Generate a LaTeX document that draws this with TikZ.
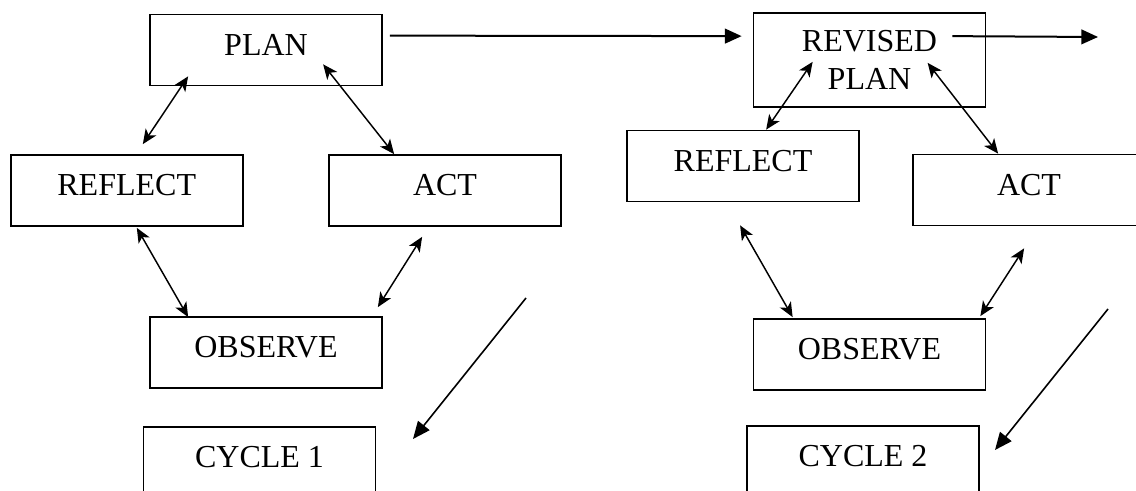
\documentclass[tikz,border=0pt]{standalone}
\usepackage{fontspec}
\setmainfont{Liberation Serif}
\usetikzlibrary{calc,arrows.meta}
\begin{document}
\begin{tikzpicture}[x=0.75pt,y=-0.75pt,
  basebox/.style={draw,line width=1.3pt,minimum width=174pt,inner sep=0pt,font=\fontsize{24}{28}\selectfont},
  box/.style={basebox,minimum height=53.25pt,text depth=8.25pt},
  tallbox/.style={basebox,minimum height=70.5pt,align=center},
  dbl/.style={line width=1.1pt,{Stealth[length=11pt,width=9.5pt,inset=3pt]}-{Stealth[length=11pt,width=9.5pt,inset=3pt]}},
  one/.style={line width=1.2pt,-{Triangle[length=13pt,width=11pt]}},
  flow/.style={line width=1.5pt,-{Triangle[length=12.5pt,width=11pt]}}]
\path[use as bounding box, clip] (0,0) rectangle (1136,491);
% cycle 1
\node[box] (plan) at (266,50) {PLAN};
\node[box] (reflect1) at (126.7,190.5) {REFLECT};
\node[box] (act1) at (445,190.5) {ACT};
\node[box] (observe1) at (266,352.5) {OBSERVE};
\node[box] (cycle1) at (259.5,462.5) {CYCLE 1};
% cycle 2
\node[tallbox] (rplan) at (869.5,60) {REVISED\\PLAN};
\node[box] (reflect2) at (743,166) {REFLECT};
\node[box] (act2) at (1029,190) {ACT};
\node[box] (observe2) at (869.5,354.5) {OBSERVE};
\node[box] (cycle2) at (863,461.5) {CYCLE 2};
% free ends
\coordinate (d1s) at (526,298);
\coordinate (d1e) at (413,439);
\coordinate (d2s) at (1108,309);
\coordinate (d2e) at (995,450);
\coordinate (out) at (1098,37);
% connectors cycle 1
\draw[dbl] ($(plan.south west)+(39,-10)$) -- ($(reflect1.north west)+(133,-10)$);
\draw[dbl] ($(plan.south west)+(174,-22)$) -- ($(act1.north west)+(66,0)$);
\draw[dbl] ($(reflect1.south west)+(127,1)$) -- ($(observe1.north west)+(39,1)$);
\draw[dbl] ($(act1.south west)+(94,10)$) -- ($(observe1.north east)+(-5,-9)$);
\draw[one] (d1s) -- (d1e);
% connectors between
\draw[flow] ($(plan.north east)+(7,22)$) -- ($(rplan.north west)+(-11,24)$);
\draw[flow] ($(rplan.north east)+(-34,24)$) -- (out);
% connectors cycle 2
\draw[dbl] ($(rplan.south west)+(60,-46)$) -- ($(reflect2.north west)+(140,0)$);
\draw[dbl] ($(rplan.south west)+(175,-45)$) -- ($(act2.north west)+(86,0)$);
\draw[dbl] ($(reflect2.south west)+(114,23)$) -- ($(observe2.north west)+(40,-1)$);
\draw[dbl] ($(act2.south west)+(112,22)$) -- ($(observe2.north east)+(-6,-2)$);
\draw[one] (d2s) -- (d2e);
\end{tikzpicture}
\end{document}
